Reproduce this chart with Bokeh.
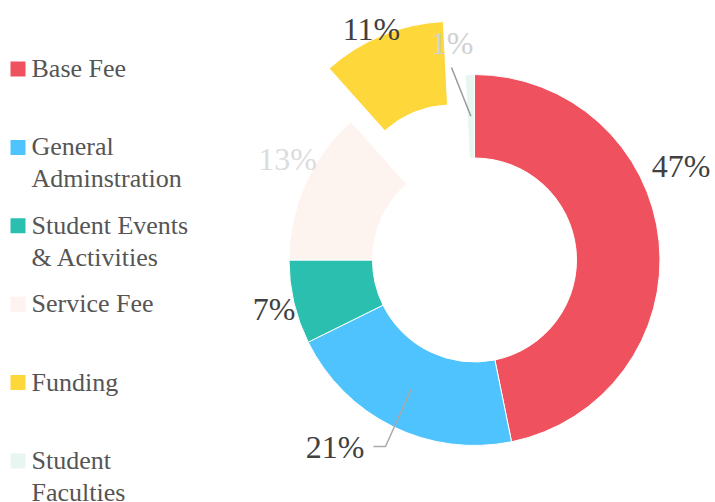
import numpy as np
from bokeh.plotting import figure
from bokeh.models import Range1d, ColumnDataSource
from bokeh.embed import file_html
from bokeh.resources import INLINE
from bokeh.core.properties import value

# ---- data ----
categories = ["Base Fee", "General\nAdminstration", "Student Events\n& Activities",
              "Service Fee", "Funding", "Student\nFaculties"]
shares = [46.8, 20.9, 7.3, 13.4, 10.8, 0.8]          # percent of total
colors = ["#F0515E", "#4FC3FE", "#2ABFAE", "#FDF3EF", "#FED83A", "#E7F6F1"]
label_colors = ["#404040", "#404040", "#404040", "#DCDCDC", "#404040", "#D0D0D0"]
exploded = [0, 0, 0, 0, 1, 0]

# ---- layout (page pixels) ----
W, H = 715, 502
def X(px): return px
def Y(py): return H - py

CX, CY = 474, 259.5
R_OUT, R_IN = 185.5, 102
EXPLODE = 57.5
FONT = "Liberation Serif"
LABEL_SHIFT = 12     # renderer baseline correction (px)
LEGEND_SHIFT = 8

# label anchors: (center x, baseline y) in page pixels
label_pos = [(680.5, 177), (334.5, 458), (273.5, 320), (287, 170), (371, 40), (451.5, 54)]
# connectors: list of outer waypoints (page px); inner end computed from slice mid angle
connectors = {1: ([(373, 446), (385, 446)], "#AAAAAA"), 5: ([(451, 67)], "#999999")}

p = figure(width=W, height=H, x_range=Range1d(0, W), y_range=Range1d(0, H),
           output_backend="svg", toolbar_location=None, min_border=0,
           x_axis_location=None, y_axis_location=None)
p.grid.visible = False
p.outline_line_color = None
p.background_fill_color = "white"

vals = np.array(shares, dtype=float)
frac = vals / vals.sum()
c1 = np.cumsum(frac)
c0 = c1 - frac
start = np.pi / 2 - 2 * np.pi * c1
end = np.pi / 2 - 2 * np.pi * c0
mid = (start + end) / 2

xs, ys = [], []
for i in range(len(vals)):
    off = EXPLODE if exploded[i] else 0.0
    xs.append(X(CX) + off * np.cos(mid[i]))
    ys.append(Y(CY) + off * np.sin(mid[i]))

src = ColumnDataSource(dict(x=xs, y=ys, start=start, end=end, color=colors))
p.annular_wedge(x="x", y="y", inner_radius=R_IN, outer_radius=R_OUT,
                start_angle="start", end_angle="end", fill_color="color",
                line_color="white", line_width=1, source=src)

# connectors
for i, (pts, col) in connectors.items():
    r_mid = (R_IN + R_OUT) / 2
    ix = xs[i] + r_mid * np.cos(mid[i])
    iy = ys[i] + r_mid * np.sin(mid[i])
    lx = [X(a) for a, b in pts] + [ix]
    ly = [Y(b) for a, b in pts] + [iy]
    p.line(lx, ly, line_color=col, line_width=1.5)

# percentage labels
labels = ["%d%%" % round(v) for v in vals]
p.text(x=[X(a) for a, b in label_pos], y=[Y(b - LABEL_SHIFT) for a, b in label_pos],
       text=labels, text_color=label_colors, text_font=value(FONT),
       text_font_size="32px", text_align="center", text_baseline="alphabetic")

# legend
base0, step, lh = 76, 78.4, 32
sq_l, sq_r, sq_t, sq_b = [], [], [], []
tx, ty, tt = [], [], []
for i, cat in enumerate(categories):
    bl = base0 + step * i
    sq_l.append(X(10)); sq_r.append(X(25)); sq_t.append(Y(bl - 15)); sq_b.append(Y(bl))
    for j, line in enumerate(cat.split("\n")):
        tx.append(X(31)); ty.append(Y(bl + j * lh - LEGEND_SHIFT)); tt.append(line)
p.quad(left=sq_l, right=sq_r, top=sq_t, bottom=sq_b, fill_color=colors, line_color=None)
p.text(x=tx, y=ty, text=tt, text_color="#555555", text_font=value(FONT),
       text_font_size="26px", text_align="left", text_baseline="alphabetic")

open("out.html", "w").write(file_html(p, INLINE))
